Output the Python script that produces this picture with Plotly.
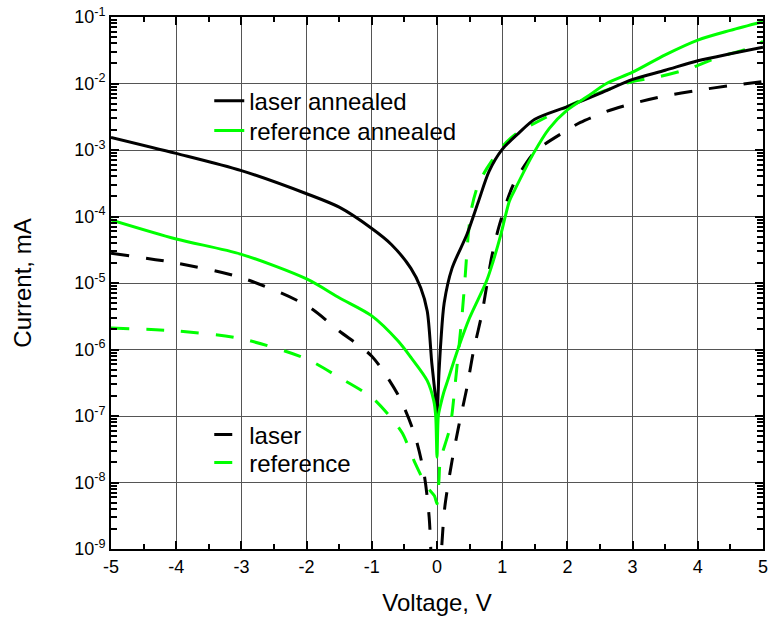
import plotly.graph_objects as go

# I-V characteristics: voltage in V, current in mA
v_laser_annealed = [-5, -4, -3, -2, -1.5, -1, -0.7, -0.4, -0.25, -0.15, -0.08, -0.03, 0,
                    0.03, 0.06, 0.11, 0.23, 0.46, 0.63, 0.8, 1.0, 1.25, 1.5, 2, 2.5, 3,
                    3.5, 4, 4.5, 5]
i_laser_annealed = [1.55e-3, 8.9e-4, 4.9e-4, 2.2e-4, 1.38e-4, 6.6e-5, 3.8e-5, 1.66e-5, 8.5e-6,
                    3.8e-6, 6.3e-7, 2.2e-7, 1.12e-7, 4.4e-7, 1.35e-6, 5.0e-6, 1.66e-5, 5.4e-5,
                    1.62e-4, 4.8e-4, 1.02e-3, 1.78e-3, 2.9e-3, 4.5e-3, 7.1e-3, 1.15e-2,
                    1.58e-2, 2.2e-2, 2.8e-2, 3.5e-2]

v_reference_annealed = [-5, -4, -3, -2, -1.5, -1, -0.6, -0.4, -0.15, -0.05, -0.02, 0, 0.02,
                        0.05, 0.1, 0.15, 0.33, 0.5, 0.76, 0.86, 0.98, 1.11, 1.2, 1.48, 1.72,
                        2, 2.3, 2.6, 3, 3.5, 4, 4.5, 5]
i_reference_annealed = [8.9e-5, 4.6e-5, 2.7e-5, 1.15e-5, 6.0e-6, 3.2e-6, 1.35e-6, 7.6e-7,
                        3.4e-7, 1.7e-7, 1.0e-7, 2.4e-8, 1.0e-7, 1.4e-7, 2.2e-7, 3.1e-7,
                        1.07e-6, 3.0e-6, 1.07e-5, 2.1e-5, 5.4e-5, 1.7e-4, 2.6e-4, 8.9e-4,
                        2.1e-3, 4.0e-3, 6.3e-3, 1.0e-2, 1.48e-2, 2.7e-2, 4.5e-2, 6.3e-2, 8.5e-2]

v_laser = [-5, -4, -3, -2, -1.5, -1, -0.6, -0.35, -0.2, -0.12, -0.08, -0.03, 0, 0.03, 0.07,
           0.12, 0.23, 0.33, 0.46, 0.56, 0.69, 0.84, 0.96, 1.17, 1.48, 1.64, 2, 2.2, 2.6,
           3, 3.5, 4, 4.5, 5]
i_laser = [2.8e-5, 2.0e-5, 1.2e-5, 4.6e-6, 1.9e-6, 7.9e-7, 2.1e-7, 5.5e-8, 1.38e-8, 3.0e-9,
           5e-10, 1.6e-10, 1.0e-10, 2e-10, 1.0e-9, 4.3e-9, 2.1e-8, 6.8e-8, 2.7e-7, 9.5e-7,
           3.5e-6, 2.5e-5, 7.6e-5, 3.0e-4, 8.9e-4, 1.2e-3, 2.0e-3, 2.6e-3, 3.8e-3, 5.0e-3,
           6.5e-3, 7.9e-3, 9.3e-3, 1.07e-2]

v_reference = [-5, -4, -3, -2, -1.5, -1, -0.71, -0.53, -0.35, -0.15, -0.04, 0, 0.03, 0.05,
               0.2, 0.28, 0.33, 0.39, 0.43, 0.48, 0.53, 0.62, 0.76, 1.0, 1.22, 1.63, 2,
               2.26, 2.65, 3, 3.4, 3.86, 4.32, 4.84, 5]
i_reference = [2.1e-6, 1.9e-6, 1.45e-6, 7.2e-7, 3.8e-7, 1.9e-7, 9.5e-8, 5.5e-8, 2.1e-8,
               8.5e-9, 6.3e-9, 4.8e-9, 1.1e-8, 2.1e-8, 6.8e-8, 3.1e-7, 9.5e-7, 3.8e-6,
               1.17e-5, 5.4e-5, 1.32e-4, 2.8e-4, 5.2e-4, 1.12e-3, 1.78e-3, 2.95e-3, 4.5e-3,
               5.9e-3, 8.3e-3, 1.07e-2, 1.26e-2, 1.66e-2, 2.5e-2, 3.5e-2, 4.3e-2]

x_tickvals = [-5, -4, -3, -2, -1, 0, 1, 2, 3, 4, 5]
x_ticktext = ["-5", "-4", "-3", "-2", "-1", "0", "1", "2", "3", "4", "5"]
y_tickvals = [1e-9, 1e-8, 1e-7, 1e-6, 1e-5, 1e-4, 1e-3, 1e-2, 1e-1]
y_ticktext = ["10<sup>-9</sup>", "10<sup>-8</sup>", "10<sup>-7</sup>", "10<sup>-6</sup>",
              "10<sup>-5</sup>", "10<sup>-4</sup>", "10<sup>-3</sup>", "10<sup>-2</sup>",
              "10<sup>-1</sup>"]

# minor ticks: half-volt steps on x, 2..9 within each decade on y
x_minor = [v + 0.5 for v in x_tickvals[:-1]]
y_minor = [k * d for d in y_tickvals[:-1] for k in range(2, 10)]

BLACK = "#000000"
GREEN = "#00ff00"
DASH = "18px,17px"

series = [
    ("laser", v_laser, i_laser, BLACK, DASH, "legend3"),
    ("reference", v_reference, i_reference, GREEN, DASH, "legend4"),
    ("laser annealed", v_laser_annealed, i_laser_annealed, BLACK, "solid", "legend"),
    ("reference annealed", v_reference_annealed, i_reference_annealed, GREEN, "solid",
     "legend2"),
]

fig = go.Figure()
for name, v, i, color, dash, leg in series:
    fig.add_trace(go.Scatter(
        x=v, y=i, mode="lines", name=name, legend=leg, showlegend=True,
        line=dict(color=color, width=3, dash=dash, shape="spline", smoothing=0.8),
    ))

axis_common = dict(
    showline=True, linewidth=2, linecolor=BLACK, mirror="ticks",
    ticks="inside", ticklen=8, tickwidth=2, tickcolor=BLACK,
    showgrid=True, gridcolor="#555555", gridwidth=1, zeroline=False,
    tickfont=dict(size=18, color=BLACK),
    tickmode="array",
)

fig.update_xaxes(
    **axis_common, range=[-5, 5], tickvals=x_tickvals, ticktext=x_ticktext,
    minor=dict(tickmode="array", tickvals=x_minor, ticks="inside", ticklen=5,
               tickwidth=1.5, tickcolor=BLACK, showgrid=False),
    title=dict(text="Voltage, V", font=dict(size=24, color=BLACK), standoff=19),
)
fig.update_yaxes(
    **axis_common, type="log", range=[-9, -1], tickvals=y_tickvals, ticktext=y_ticktext,
    minor=dict(tickmode="array", tickvals=y_minor, ticks="inside", ticklen=6,
               tickwidth=1.5, tickcolor=BLACK, showgrid=False),
    title=dict(text="Current, mA", font=dict(size=24, color=BLACK), standoff=36),
)

legend_style = dict(x=0.1507, xanchor="left", yanchor="top", bgcolor="rgba(0,0,0,0)",
                    borderwidth=0, font=dict(size=24, color=BLACK))
fig.update_layout(
    width=773, height=624,
    margin=dict(l=111, r=5, t=15, b=75),
    paper_bgcolor="white", plot_bgcolor="white",
    font=dict(family="Liberation Sans, Arial, sans-serif", color=BLACK),
    showlegend=True,
    legend=dict(y=0.884, **legend_style),
    legend2=dict(y=0.828, **legend_style),
    legend3=dict(y=0.257, **legend_style),
    legend4=dict(y=0.204, **legend_style),
)

fig.write_html("out.html")
